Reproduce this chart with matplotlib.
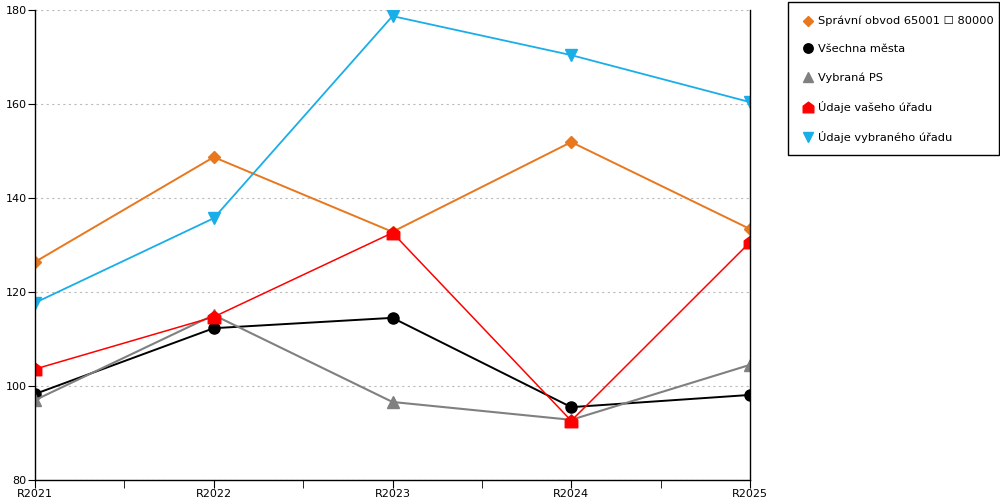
import matplotlib
matplotlib.use('Agg')
import matplotlib.pyplot as plt
from matplotlib.path import Path
from matplotlib.patches import Rectangle

years = ['R2021', 'R2022', 'R2023', 'R2024', 'R2025']

spravni_obvod = [126.4, 148.7, 132.8, 151.9, 133.4]
vsechna_mesta = [98.3, 112.3, 114.5, 95.5, 98.1]
vybrana_ps = [97.0, 115.1, 96.6, 92.8, 104.5]
vas_urad = [103.6, 114.7, 132.6, 92.6, 130.6]
vybrany_urad = [117.7, 135.7, 178.7, 170.4, 160.4]

# house-like marker for the red series
house = Path([(-1, -1), (1, -1), (1, 0.25), (0, 1), (-1, 0.25), (-1, -1)],
             [Path.MOVETO, Path.LINETO, Path.LINETO, Path.LINETO, Path.LINETO, Path.CLOSEPOLY])

plt.rcParams['font.family'] = 'DejaVu Sans'
fig = plt.figure(figsize=(10, 5), dpi=100)
ax = fig.add_axes([0.035, 0.04, 0.715, 0.94])

x = list(range(len(years)))
series = [
    ('Správní obvod 65001 \u2610 80000', spravni_obvod, '#E8771E', 'D', 6, 1.4),
    ('Všechna města', vsechna_mesta, '#000000', 'o', 8, 1.4),
    ('Vybraná PS', vybrana_ps, '#808080', '^', 8, 1.5),
    ('Údaje vašeho úřadu', vas_urad, '#FF0000', house, 9, 1.1),
    ('Údaje vybraného úřadu', vybrany_urad, '#1AAEE8', 'v', 8, 1.3),
]
for label, vals, color, marker, ms, lw in series:
    ax.plot(x, vals, color=color, marker=marker, markersize=ms, linewidth=lw,
            label=label)

ax.set_xlim(0, 4)
ax.set_ylim(80, 180)
ax.set_yticks([80, 100, 120, 140, 160, 180])
ax.set_xticks(x)
ax.set_xticklabels(years)
ax.set_xticks([0.5, 1.5, 2.5, 3.5], minor=True)
ax.tick_params(axis='x', which='both', length=6, labelsize=8, pad=0.5)
ax.tick_params(axis='y', length=5, labelsize=8, pad=1)
ax.grid(axis='y', linestyle=(0, (2, 3)), color='#bbbbbb', linewidth=0.8)
ax.spines['top'].set_visible(False)
for s in ['left', 'bottom', 'right']:
    ax.spines[s].set_linewidth(1)

# legend without its own frame, box drawn separately
leg = fig.legend(loc='upper left', bbox_to_anchor=(0.802, 0.968), fontsize=8.2,
                 frameon=False, labelspacing=1.57, handlelength=1.04,
                 handletextpad=0.38, borderpad=0, borderaxespad=0,
                 markerscale=0.85)
for h in leg.legend_handles:
    h.set_linestyle('none')
fig.patches.append(Rectangle((0.788, 1 - 155 / 500), 0.211, 153 / 500,
                             transform=fig.transFigure, fill=False,
                             edgecolor='black', linewidth=1))

fig.savefig('out.png', dpi=100)
